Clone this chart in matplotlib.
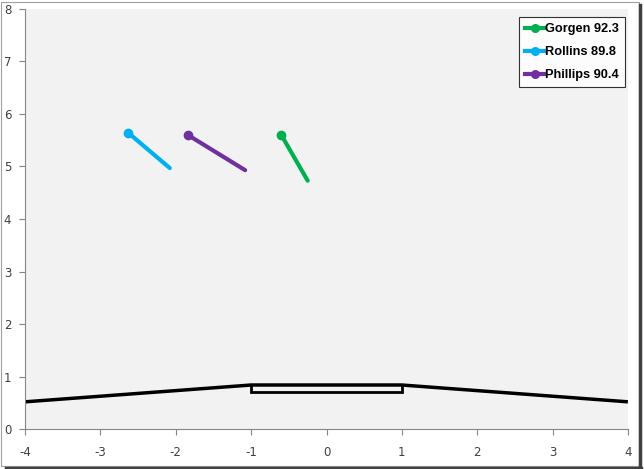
import matplotlib.pyplot as plt
from matplotlib.patches import Rectangle
from matplotlib.lines import Line2D

plt.rcParams['axes.unicode_minus'] = False

# pitch paths: start point (marker) -> end point
names = ['Gorgen 92.3', 'Rollins 89.8', 'Phillips 90.4']
colors = ['#00B050', '#00B0F0', '#7030A0']
x_start = [-0.60, -2.63, -1.84]
y_start = [5.60, 5.64, 5.60]
x_end = [-0.25, -2.08, -1.08]
y_end = [4.73, 4.97, 4.93]

# plate outline
plate_x = [-4, -1, 1, 4]
plate_y = [0.52, 0.84, 0.84, 0.52]
box_x = [-1, -1, 1, 1]
box_y = [0.84, 0.71, 0.71, 0.84]

fig = plt.figure(figsize=(6.44, 4.69), dpi=100)
fig.patch.set_facecolor('white')
ax = fig.add_axes([0.039, 0.085, 0.936, 0.896])
ax.set_facecolor('#F2F2F2')

ax.plot(plate_x, plate_y, color='black', lw=2.5, solid_capstyle='butt')
ax.plot(box_x, box_y, color='black', lw=2, solid_joinstyle='miter')

for n, c, xs, ys, xe, ye in zip(names, colors, x_start, y_start, x_end, y_end):
    ax.plot([xs, xe], [ys, ye], color=c, lw=3, solid_capstyle='round')
    ax.plot([xs], [ys], 'o', color=c, ms=6)

handles = [Line2D([0], [0], color=c, lw=3, marker='o', ms=5.5) for c in colors]
leg = ax.legend(handles, names, loc='upper right', bbox_to_anchor=(0.995, 0.981),
                frameon=True, fancybox=False, handlelength=1.5, handletextpad=0.0,
                borderpad=0.5, labelspacing=0.85, borderaxespad=0,
                prop={'family': ['Liberation Sans Narrow', 'Liberation Sans'],
                      'weight': 'bold', 'size': 9.2})
leg.get_frame().set_edgecolor('black')
leg.get_frame().set_linewidth(0.8)
leg.get_frame().set_facecolor('white')

ax.set_xlim(-4, 4)
ax.set_ylim(0, 8)
ax.set_xticks(range(-4, 5))
ax.set_yticks(range(0, 9))
for s in ['top', 'right']:
    ax.spines[s].set_visible(False)
for s in ['left', 'bottom']:
    ax.spines[s].set_color('#868686')
    ax.spines[s].set_linewidth(0.8)
ax.tick_params(colors='#868686', labelcolor='#404040', labelsize=8.5, length=4, width=0.8)
ax.tick_params(axis='x', pad=8)
ax.tick_params(axis='y', pad=6)

# screenshot frame
fig.add_artist(Rectangle((0.002, 0.006), 0.99, 0.99, transform=fig.transFigure,
                         fill=False, edgecolor='#A0A0A0', lw=0.8))
fig.add_artist(Line2D([0.994, 0.994], [0.0, 0.99], transform=fig.transFigure, color='#404040', lw=2.5))
fig.add_artist(Line2D([0.01, 0.996], [0.003, 0.003], transform=fig.transFigure, color='#404040', lw=2.5))

fig.savefig('out.png', dpi=100)
